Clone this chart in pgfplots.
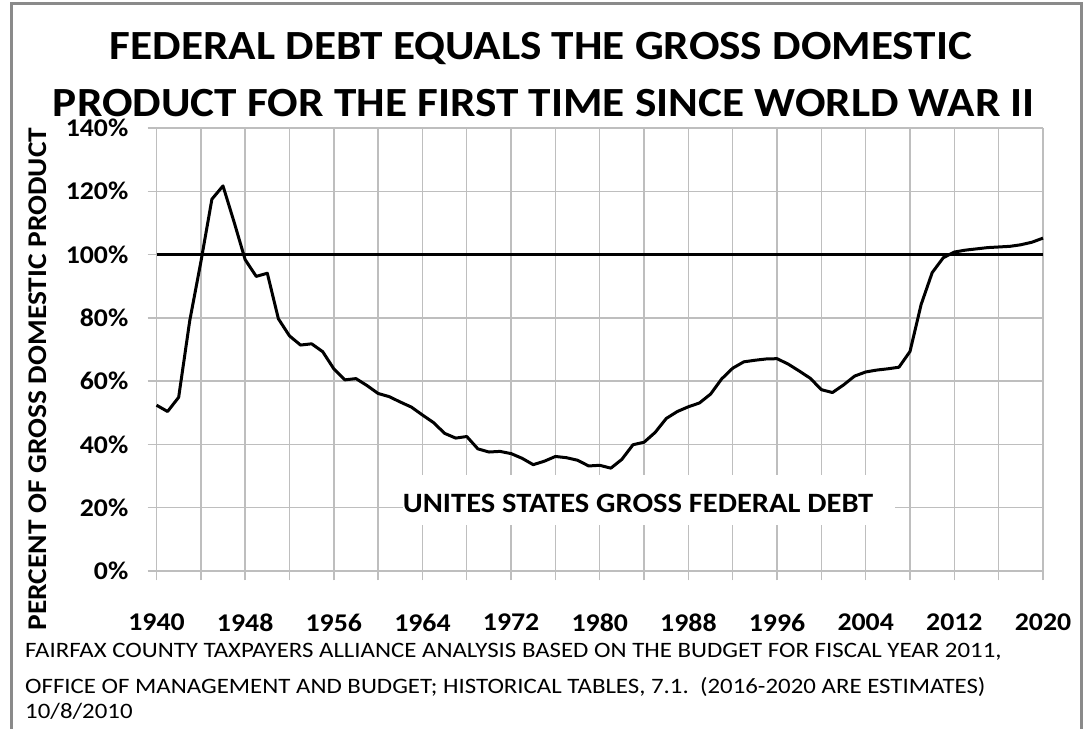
\documentclass[border=0pt]{standalone}
\usepackage{pgfplots}
\pgfplotsset{compat=1.18}
\usepackage{fontspec}
\setmainfont{Carlito}[FakeStretch=1.09]
\newfontfamily\notefont{Carlito}[FakeStretch=1.13]
\definecolor{gridc}{HTML}{BEBEBE}
\definecolor{framec}{HTML}{8A8A8A}
\begin{document}
\begin{tikzpicture}[x=1pt,y=1pt]
\useasboundingbox (0,0) rectangle (1086,728);
\fill[white] (0,0) rectangle (1086,728);
\draw[framec, line width=3pt] (11,-5) -- (11,724) -- (1081.5,724) -- (1081.5,-5);
\begin{axis}[
  at={(156.5pt,157pt)}, anchor=south west,
  scale only axis, width=886.5pt, height=443pt,
  xmin=1940, xmax=2020, ymin=0, ymax=140,
  axis line style={draw=none},
  xtick={1940,1948,...,2020},
  minor xtick={1944,1952,...,2016},
  ytick={0,20,...,140},
  yticklabels={0\%,20\%,40\%,60\%,80\%,100\%,120\%,140\%},
  xticklabels={1940,1948,1956,1964,1972,1980,1988,1996,2004,2012,2020},
  grid=both,
  grid style={gridc, line width=1.4pt},
  minor grid style={gridc, line width=1.4pt},
  tick align=outside,
  major tick length=9pt, minor tick length=9pt,
  tick style={gridc, line width=1.4pt},
  xtick pos=bottom, ytick pos=left,
  ticklabel style={font=\fontsize{25.5}{28}\selectfont\bfseries},
  xticklabel style={anchor=north, inner sep=0pt, yshift=-34pt},
  yticklabel style={anchor=east, inner sep=0pt, xshift=-19pt},
  clip=false,
]
\addplot[black, line width=3pt] coordinates {(1940,100) (2020,100)};
\addplot[black, line width=3pt, line join=round] coordinates {
(1940,52.4) (1941,50.4) (1942,54.9) (1943,79.1) (1944,97.6) (1945,117.5)
(1946,121.7) (1947,110.3) (1948,98.4) (1949,93.1) (1950,94.1) (1951,79.7)
(1952,74.3) (1953,71.4) (1954,71.8) (1955,69.3) (1956,63.9) (1957,60.4)
(1958,60.8) (1959,58.6) (1960,56.1) (1961,55.1) (1962,53.4) (1963,51.8)
(1964,49.3) (1965,46.9) (1966,43.5) (1967,42.0) (1968,42.5) (1969,38.6)
(1970,37.6) (1971,37.8) (1972,37.1) (1973,35.6) (1974,33.6) (1975,34.7)
(1976,36.2) (1977,35.8) (1978,35.0) (1979,33.2) (1980,33.4) (1981,32.5)
(1982,35.3) (1983,39.9) (1984,40.7) (1985,43.8) (1986,48.2) (1987,50.4)
(1988,51.9) (1989,53.1) (1990,55.9) (1991,60.7) (1992,64.1) (1993,66.1)
(1994,66.6) (1995,67.0) (1996,67.1) (1997,65.4) (1998,63.2) (1999,60.9)
(2000,57.3) (2001,56.4) (2002,58.8) (2003,61.6) (2004,62.9) (2005,63.5)
(2006,63.9) (2007,64.4) (2008,69.4) (2009,84.2) (2010,94.3) (2011,99.0)
(2012,100.8) (2013,101.4) (2014,101.8) (2015,102.2) (2016,102.4) (2017,102.6)
(2018,103.1) (2019,103.9) (2020,105.2)
};
\fill[white] (axis cs:1962.25,14.6) rectangle (axis cs:2006.65,30.2);
\node[font=\fontsize{28}{30}\selectfont\bfseries, inner sep=0pt] at (axis cs:1983.45,21.3) {UNITES STATES GROSS FEDERAL DEBT};
\end{axis}
\node[font=\fontsize{41.5}{45}\selectfont\bfseries, anchor=base, inner sep=0pt] at (541,668) {FEDERAL DEBT EQUALS THE GROSS DOMESTIC};
\node[font=\fontsize{41.5}{45}\selectfont\bfseries, anchor=base, inner sep=0pt] at (544,611) {PRODUCT FOR THE FIRST TIME SINCE WORLD WAR II};
\node[font=\fontsize{27}{30}\selectfont\bfseries, rotate=90, anchor=center, inner sep=0pt] at (38,349) {PERCENT OF GROSS DOMESTIC PRODUCT};
\node[font=\notefont\fontsize{22}{25}\selectfont, anchor=base west, inner sep=0pt] at (25,71) {FAIRFAX COUNTY TAXPAYERS ALLIANCE ANALYSIS BASED ON THE BUDGET FOR FISCAL YEAR 2011,};
\node[font=\notefont\fontsize{22}{25}\selectfont, anchor=base west, inner sep=0pt] at (25,35) {OFFICE OF MANAGEMENT AND BUDGET; HISTORICAL TABLES, 7.1.\ \ (2016-2020 ARE ESTIMATES)};
\node[font=\notefont\fontsize{22}{25}\selectfont, anchor=base west, inner sep=0pt] at (25,10) {10/8/2010};
\end{tikzpicture}
\end{document}
